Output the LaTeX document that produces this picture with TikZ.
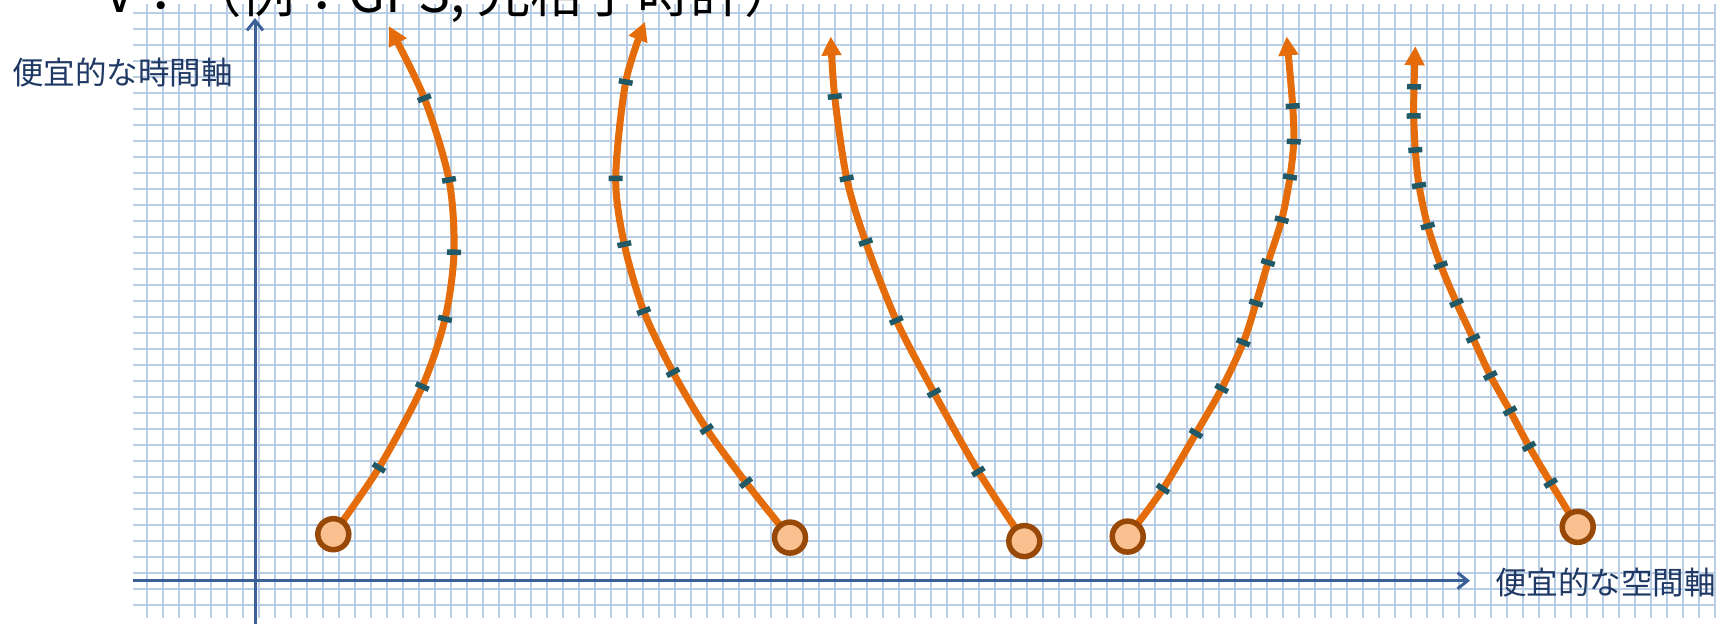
\documentclass[tikz,border=0pt]{standalone}
\usepackage{fontspec}
\newfontfamily\jp{Noto Sans CJK JP}
\usetikzlibrary{calc,arrows.meta}
\definecolor{gridc}{HTML}{B9CDE5}
\definecolor{axisc}{HTML}{3C6199}
\definecolor{labelc}{HTML}{1F3864}
\definecolor{curvec}{HTML}{E46C0A}
\definecolor{tickc}{HTML}{215967}
\definecolor{ringc}{HTML}{984807}
\definecolor{fillc}{HTML}{FAC090}
\newcommand\tk[3]{\draw[tickline] let \p1=($(#3)-(#1)$), \n1={atan2(\y1,\x1)+90} in ($(#2)+(\n1:7pt)$) -- ($(#2)-(\n1:7pt)$);}
\begin{document}
\begin{tikzpicture}[x=1pt,y=-1pt,
  gridline/.style={gridc, line width=2pt},
  axisline/.style={axisc, line width=3pt, -{Straight Barb[length=10pt,width=16pt]}},
  axislabel/.style={inner sep=0pt, text=labelc, font=\jp\fontsize{31.5}{36}\selectfont},
  curveline/.style={curvec, line width=7pt, -{Triangle[length=19pt,width=19pt]}},
  tickline/.style={tickc, line width=5.5pt},
  ring/.style={circle, draw=ringc, fill=fillc, line width=5.5pt, minimum size=31pt, inner sep=0pt}]
\useasboundingbox (0,0) rectangle (1727,624);
% grid
\foreach \k in {0,...,98} \draw[gridline] (146.7+16*\k,4) -- (146.7+16*\k,618);
\foreach \k in {0,...,37} \draw[gridline] (133,12.7+16*\k) -- (1715,12.7+16*\k);
% title (cut off by the top edge)
\node[anchor=base west, inner sep=0pt, font=\jp\fontsize{53.4}{60}\selectfont] (title) at (104,12) {V：（例：GPS, 光格子時計）};
% axes
\coordinate (xs) at (133,580.7);
\coordinate (xe) at (1470,580.7);
\coordinate (ys) at (255,624);
\coordinate (ye) at (255,18);
\draw[axisline] (xs) -- (xe);
\draw[axisline] (ys) -- (ye);
\node[axislabel, anchor=west] (ylab) at (12,73) {便宜的な時間軸};
\node[axislabel, anchor=west] (xlab) at (1495,583) {便宜的な空間軸};
% curve 1
\draw[curveline] plot[smooth] coordinates {(333.3,534.2) (379,467.7) (422.3,386.5) (445,318.9) (454,252.2) (449,179.8) (424.3,98.2) (389,26.2)};
\tk{333.3,534.2}{379,467.7}{422.3,386.5}
\tk{379,467.7}{422.3,386.5}{445,318.9}
\tk{422.3,386.5}{445,318.9}{454,252.2}
\tk{445,318.9}{454,252.2}{449,179.8}
\tk{454,252.2}{449,179.8}{424.3,98.2}
\tk{449,179.8}{424.3,98.2}{389,26.2}
% curve 2
\draw[curveline] plot[smooth] coordinates {(790,537.6) (746,482.6) (706.7,429.1) (673,372.3) (643.7,311.1) (624.3,244.2) (615.7,178.4) (625.7,82) (645,21.8)};
\tk{790,537.6}{746,482.6}{706.7,429.1}
\tk{746,482.6}{706.7,429.1}{673,372.3}
\tk{706.7,429.1}{673,372.3}{643.7,311.1}
\tk{673,372.3}{643.7,311.1}{624.3,244.2}
\tk{643.7,311.1}{624.3,244.2}{615.7,178.4}
\tk{624.3,244.2}{615.7,178.4}{625.7,82}
\tk{615.7,178.4}{625.7,82}{645,21.8}
% curve 3
\draw[curveline] plot[smooth] coordinates {(1024.3,541.1) (978.3,471.5) (934,392.7) (896.3,320.4) (865.7,242.1) (846.7,178.4) (834.7,96.5) (830.7,36.5)};
\tk{1024.3,541.1}{978.3,471.5}{934,392.7}
\tk{978.3,471.5}{934,392.7}{896.3,320.4}
\tk{934,392.7}{896.3,320.4}{865.7,242.1}
\tk{896.3,320.4}{865.7,242.1}{846.7,178.4}
\tk{865.7,242.1}{846.7,178.4}{834.7,96.5}
\tk{846.7,178.4}{834.7,96.5}{830.7,36.5}
% curve 4
\draw[curveline] plot[smooth] coordinates {(1127.7,536.6) (1163,488.8) (1196,433.3) (1221.7,388.5) (1243.3,342.4) (1256,303.1) (1268,262.5) (1281.7,219.7) (1290,177) (1293.7,141.6) (1292.7,106.1) (1286.7,36.5)};
\tk{1127.7,536.6}{1163,488.8}{1196,433.3}
\tk{1163,488.8}{1196,433.3}{1221.7,388.5}
\tk{1196,433.3}{1221.7,388.5}{1243.3,342.4}
\tk{1221.7,388.5}{1243.3,342.4}{1256,303.1}
\tk{1243.3,342.4}{1256,303.1}{1268,262.5}
\tk{1256,303.1}{1268,262.5}{1281.7,219.7}
\tk{1268,262.5}{1281.7,219.7}{1290,177}
\tk{1281.7,219.7}{1290,177}{1293.7,141.6}
\tk{1290,177}{1293.7,141.6}{1292.7,106.1}
\tk{1293.7,141.6}{1292.7,106.1}{1286.7,36.5}
% curve 5
\draw[curveline] plot[smooth] coordinates {(1577.7,526.9) (1550.7,482.9) (1529,446.4) (1510,410.9) (1490.3,375.5) (1473,338.3) (1456.5,302.8) (1440.7,265.2) (1427.7,226) (1419,185.4) (1415.3,150) (1413.7,115.9) (1414,86.8) (1415.3,46.2)};
\tk{1577.7,526.9}{1550.7,482.9}{1529,446.4}
\tk{1550.7,482.9}{1529,446.4}{1510,410.9}
\tk{1529,446.4}{1510,410.9}{1490.3,375.5}
\tk{1510,410.9}{1490.3,375.5}{1473,338.3}
\tk{1490.3,375.5}{1473,338.3}{1456.5,302.8}
\tk{1473,338.3}{1456.5,302.8}{1440.7,265.2}
\tk{1456.5,302.8}{1440.7,265.2}{1427.7,226}
\tk{1440.7,265.2}{1427.7,226}{1419,185.4}
\tk{1427.7,226}{1419,185.4}{1415.3,150}
\tk{1419,185.4}{1415.3,150}{1413.7,115.9}
\tk{1415.3,150}{1413.7,115.9}{1414,86.8}
\tk{1413.7,115.9}{1414,86.8}{1415.3,46.2}
% start points
\node[ring] (s1) at (333.3,534.2) {};
\node[ring] (s2) at (790,537.6) {};
\node[ring] (s3) at (1024.3,541.1) {};
\node[ring] (s4) at (1127.7,536.6) {};
\node[ring] (s5) at (1577.7,526.9) {};
\end{tikzpicture}
\end{document}
